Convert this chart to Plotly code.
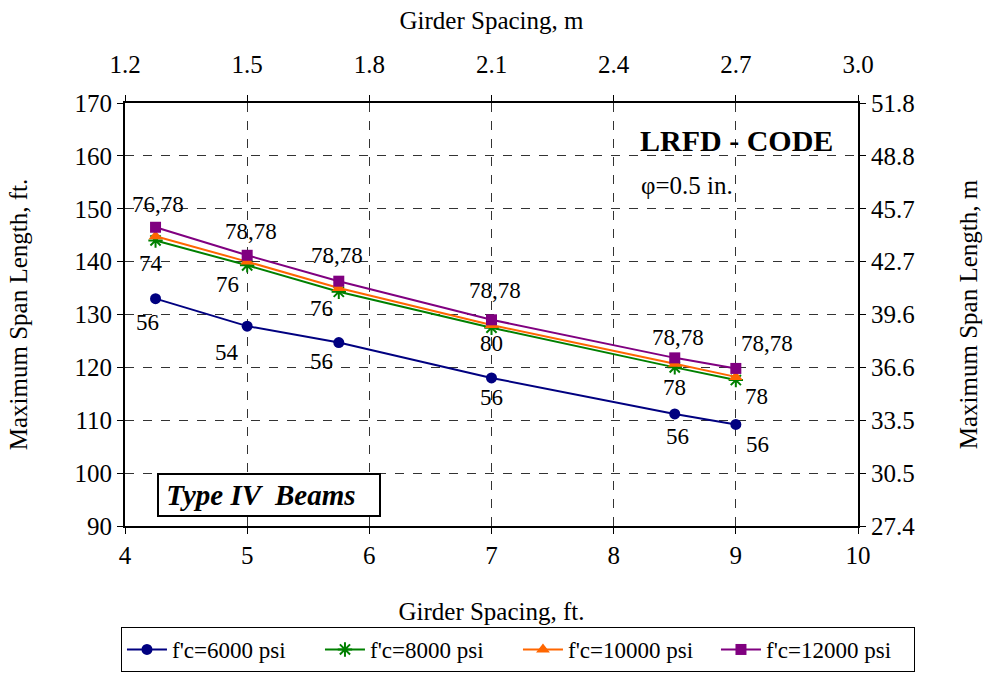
import plotly.graph_objects as go

# ---- data ----
spacing_ft = [4.25, 5, 5.75, 7, 8.5, 9]
span_6000 = [133, 127.8, 124.7, 118, 111.2, 109.2]
span_8000 = [144, 139.3, 134.3, 127.5, 120, 117.6]
span_10000 = [144.8, 140, 135, 128, 120.7, 118.2]
span_12000 = [146.5, 141.2, 136.3, 129, 121.8, 119.8]

labels_6000 = ["56", "54", "56", "56", "56", "56"]
labels_8000 = ["74", "76", "76", "80", "78", "78"]
labels_12000 = ["76,78", "78,78", "78,78", "78,78", "78,78", "78,78"]

series_names = ["f'c=6000 psi", "f'c=8000 psi", "f'c=10000 psi", "f'c=12000 psi"]

x_ticks_ft = [4, 5, 6, 7, 8, 9, 10]
x_ticks_m = ["1.2", "1.5", "1.8", "2.1", "2.4", "2.7", "3.0"]
y_ticks_ft = [90, 100, 110, 120, 130, 140, 150, 160, 170]
y_ticks_m = ["27.4", "30.5", "33.5", "36.6", "39.6", "42.7", "45.7", "48.8", "51.8"]

# ---- styling ----
FONT = "Liberation Serif"
colors = ["#000080", "#008000", "#FF6600", "#800080"]
symbols = ["circle", "asterisk-open", "triangle-up", "square"]
sizes = [11, 12, 12, 11]

# label offsets in pixels (style only)
off_6000 = [(-8, -24), (-20, -26), (-17, -19), (0, -20), (3, -23), (22, -20)]
off_8000 = [(-5, -23), (-20, -19), (-17, -17), (0, -16), (0, -20), (21, -16)]
off_12000 = [(2, 23), (4, 24), (-2, 26), (3, 29), (3, 20), (31, 25)]

fig = go.Figure()
for name, ys, c, s, sz in zip(series_names, [span_6000, span_8000, span_10000, span_12000],
                              colors, symbols, sizes):
    fig.add_trace(go.Scatter(
        x=spacing_ft, y=ys, name=name, mode="lines+markers",
        line=dict(color=c, width=2),
        marker=dict(symbol=s, size=sz, color=c,
                    line=dict(color=c, width=2 if s == "asterisk-open" else 0)),
    ))

# invisible helper traces so the secondary (metric) axes are drawn
fig.add_trace(go.Scatter(x=spacing_ft, y=span_6000, xaxis="x2", yaxis="y", mode="markers",
                         marker=dict(opacity=0), showlegend=False, hoverinfo="skip"))
fig.add_trace(go.Scatter(x=spacing_ft, y=span_6000, xaxis="x", yaxis="y2", mode="markers",
                         marker=dict(opacity=0), showlegend=False, hoverinfo="skip"))

annotations = []
for ys, labs, offs in [(span_6000, labels_6000, off_6000),
                       (span_8000, labels_8000, off_8000),
                       (span_12000, labels_12000, off_12000)]:
    for xv, yv, t, (dx, dy) in zip(spacing_ft, ys, labs, offs):
        annotations.append(dict(x=xv, y=yv, xref="x", yref="y", text=t, showarrow=False,
                                xanchor="center", yanchor="middle",
                                xshift=dx, yshift=dy,
                                font=dict(family=FONT, size=23, color="black")))

annotations.append(dict(x=0.834, y=0.9125, xref="paper", yref="paper", text="<b>LRFD - CODE</b>",
                        xanchor="center", yanchor="middle",
                        showarrow=False, font=dict(family=FONT, size=30, color="black")))
annotations.append(dict(x=0.7667, y=0.8038, xref="paper", yref="paper", text="\u03c6=0.5 in.",
                        xanchor="center", yanchor="middle",
                        showarrow=False, font=dict(family=FONT, size=25, color="black")))
annotations.append(dict(x=0.1965, y=0.0733, xref="paper", yref="paper",
                        xanchor="center", yanchor="middle",
                        text="&nbsp;<b><i>Type IV  Beams</i></b>", showarrow=False,
                        width=220, height=40, align="left", bgcolor="white",
                        bordercolor="black", borderwidth=2, borderpad=0,
                        font=dict(family=FONT, size=29, color="black")))

axis_common = dict(showline=True, linecolor="black", linewidth=2, ticks="outside",
                   ticklen=6, tickcolor="black", tickwidth=1,
                   tickfont=dict(family=FONT, size=25, color="black"), zeroline=False)

fig.update_layout(
    width=990, height=675,
    margin=dict(l=125, r=132, t=103, b=149, autoexpand=False),
    paper_bgcolor="white", plot_bgcolor="white",
    font=dict(family=FONT, color="black", size=22),
    xaxis=dict(range=[4, 10], tickvals=x_ticks_ft, showgrid=True, gridcolor="#333333",
               griddash="dash", gridwidth=1,
               title=dict(text="Girder Spacing, ft.", font=dict(family=FONT, size=25), standoff=34),
               **axis_common),
    xaxis2=dict(range=[4, 10], overlaying="x", side="top", anchor="y", matches="x",
                tickvals=x_ticks_ft, ticktext=x_ticks_m, showgrid=False, ticklabelstandoff=12,
                title=dict(text="Girder Spacing, m", font=dict(family=FONT, size=25), standoff=14),
                **axis_common),
    yaxis=dict(range=[90, 170], tickvals=y_ticks_ft, showgrid=True, gridcolor="#333333",
               griddash="dash", gridwidth=1,
               title=dict(text="Maximum Span Length, ft.", font=dict(family=FONT, size=25), standoff=40),
               **axis_common),
    yaxis2=dict(range=[90, 170], overlaying="y", side="right", anchor="x", matches="y",
                tickvals=y_ticks_ft, ticktext=y_ticks_m, showgrid=False,
                title=dict(text="Maximum Span Length, m", font=dict(family=FONT, size=25), standoff=45),
                **axis_common),
    legend=dict(orientation="h", xref="paper", yref="paper",
                x=-0.0055, xanchor="left", y=-0.2388, yanchor="top",
                bordercolor="black", borderwidth=1, bgcolor="white",
                font=dict(family=FONT, size=23, color="black"), itemwidth=40,
                entrywidth=143, entrywidthmode="pixels", tracegroupgap=0),
    annotations=annotations,
    showlegend=True,
)

fig.write_html("out.html")
